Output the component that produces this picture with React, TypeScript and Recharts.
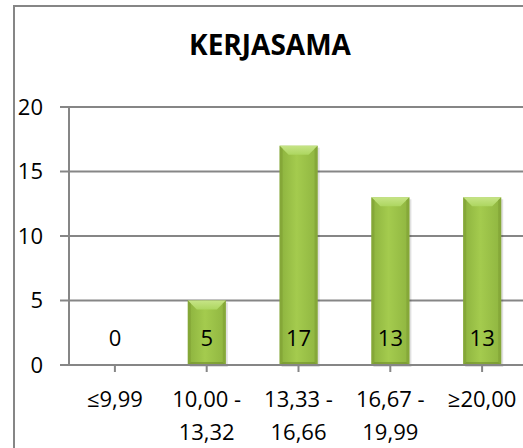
import { BarChart, Bar, XAxis, YAxis, CartesianGrid, LabelList } from 'recharts';

const categories = ['≤9,99', '10,00 -\n13,32', '13,33 -\n16,66', '16,67 -\n19,99', '≥20,00'];
const counts = [0, 5, 17, 13, 13];
const yTicks = [0, 5, 10, 15, 20];

const data = categories.map((name, i) => ({ name, value: counts[i] }));

const FONT = '"Open Sans", sans-serif';
const GRID = '#868686';

function BevelBar(props: any) {
  const { x, y, width, height } = props;
  if (!height || height <= 0) return null;
  const b = Math.min(9, height / 2);
  return (
    <g>
      <rect x={x + 2} y={y + 2} width={width} height={height} fill="#000" opacity={0.12} />
      <rect x={x} y={y} width={width} height={height} fill="url(#barFill)" />
      <polygon
        points={`${x},${y} ${x + width},${y} ${x + width - b},${y + b} ${x + b},${y + b}`}
        fill="url(#topFill)"
      />
      <polygon
        points={`${x},${y} ${x + 3},${y + 3} ${x + 3},${y + height - 3} ${x},${y + height}`}
        fill="#7e9f33"
        opacity={0.6}
      />
      <polygon
        points={`${x + width},${y} ${x + width - 3},${y + 3} ${x + width - 3},${y + height - 3} ${x + width},${y + height}`}
        fill="#7e9f33"
        opacity={0.6}
      />
      <polygon
        points={`${x},${y + height} ${x + 3},${y + height - 3} ${x + width - 3},${y + height - 3} ${x + width},${y + height}`}
        fill="#6f8d2c"
        opacity={0.6}
      />
    </g>
  );
}

function CategoryTick(props: any) {
  const { x, y, payload } = props;
  const lines = String(payload.value).split('\n');
  return (
    <text x={x} y={y} textAnchor="middle" fontFamily={FONT} fontSize={22} fill="#000">
      {lines.map((line, i) => (
        <tspan key={i} x={x} y={y + 33 + i * 33}>
          {line}
        </tspan>
      ))}
    </text>
  );
}

function ValueLabel(props: any) {
  const { x, y, width, height, value } = props;
  return (
    <text
      x={x + width / 2}
      y={y + height - 19}
      textAnchor="middle"
      fontFamily={FONT}
      fontSize={22}
      fill="#000"
    >
      {value}
    </text>
  );
}

export default function App() {
  return (
    <div
      style={{
        position: 'absolute',
        left: 0,
        top: 0,
        width: 523,
        height: 448,
        overflow: 'hidden',
        background: '#fff',
      }}
    >
      <div
        style={{
          position: 'absolute',
          left: 13,
          top: 5,
          width: 700,
          height: 700,
          border: `2px solid ${GRID}`,
          boxSizing: 'border-box',
        }}
      />
      <div
        style={{
          position: 'absolute',
          left: 0,
          width: 540,
          top: 30,
          textAlign: 'center',
          fontFamily: FONT,
          fontWeight: 700,
          fontSize: 28,
          lineHeight: 1,
          color: '#000',
        }}
      >
        KERJASAMA
      </div>
      <div style={{ position: 'absolute', left: 0, top: 0 }}>
        <BarChart
          width={560}
          height={448}
          data={data}
          margin={{ top: 107, right: 32, left: 9, bottom: 23 }}
          barSize={38}
        >
          <defs>
            <linearGradient id="barFill" x1="0" y1="0" x2="1" y2="0">
              <stop offset="0%" stopColor="#8cb23e" />
              <stop offset="45%" stopColor="#a4cb4e" />
              <stop offset="100%" stopColor="#8fb540" />
            </linearGradient>
            <linearGradient id="topFill" x1="0" y1="0" x2="0" y2="1">
              <stop offset="0%" stopColor="#c6e486" />
              <stop offset="100%" stopColor="#add660" />
            </linearGradient>
          </defs>
          <CartesianGrid vertical={false} stroke={GRID} strokeWidth={2} />
          <XAxis
            dataKey="name"
            interval={0}
            height={60}
            axisLine={{ stroke: GRID, strokeWidth: 2 }}
            tickLine={{ stroke: GRID, strokeWidth: 2 }}
            tickSize={7}
            tick={<CategoryTick />}
          />
          <YAxis
            width={60}
            domain={[0, 20]}
            ticks={yTicks}
            interval={0}
            axisLine={{ stroke: GRID, strokeWidth: 2 }}
            tickLine={{ stroke: GRID, strokeWidth: 2 }}
            tickSize={9}
            tickMargin={17}
            tick={{ fontFamily: FONT, fontSize: 22, fill: '#000' }}
          />
          <Bar dataKey="value" shape={<BevelBar />} isAnimationActive={false}>
            <LabelList dataKey="value" content={<ValueLabel />} />
          </Bar>
        </BarChart>
      </div>
    </div>
  );
}
